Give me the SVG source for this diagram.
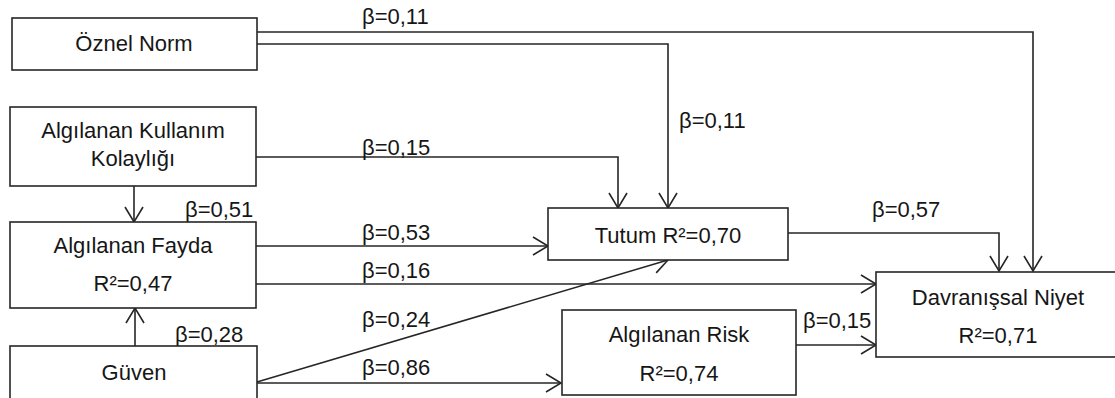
<svg xmlns="http://www.w3.org/2000/svg" width="1115" height="398" viewBox="0 0 1115 398">
  <style>
    .box { fill: #ffffff; stroke: #262626; stroke-width: 1.6; }
    .lbl { font-family: "Liberation Sans", Arial, sans-serif; font-size: 22px; fill: #161616; }
    .mid { text-anchor: middle; }
    .edge { fill: none; stroke: #262626; stroke-width: 1.6; marker-end: url(#chev); }
  </style>
  <defs>
    <marker id="chev" markerUnits="userSpaceOnUse" markerWidth="20" markerHeight="22" viewBox="-17 -11 20 22" refX="0" refY="0" orient="auto" overflow="visible">
      <path d="M -15 -9 L 0 0 L -15 9" fill="none" stroke="#262626" stroke-width="1.6"/>
    </marker>
  </defs>
  <rect width="1115" height="398" fill="#ffffff"/>

  <g id="connectors">
    <path class="edge" d="M255 32 H1033 V271"/>
    <path class="edge" d="M257 44 H668 V208"/>
    <path class="edge" d="M256 157 H618 V208"/>
    <path class="edge" d="M134 186 V222"/>
    <path class="edge" d="M256 246 H548"/>
    <path class="edge" d="M256 284 H876"/>
    <path class="edge" d="M135 346 V308"/>
    <path class="edge" d="M257 382 L668 260"/>
    <path class="edge" d="M257 383 H561"/>
    <path class="edge" d="M788 233 H999 V271"/>
    <path class="edge" d="M796 345 H876"/>
  </g>

  <g id="edge-labels" class="lbl">
    <text x="362" y="24">β=0,11</text>
    <text x="679" y="128">β=0,11</text>
    <text x="362" y="155">β=0,15</text>
    <text x="185" y="217">β=0,51</text>
    <text x="362" y="240">β=0,53</text>
    <text x="362" y="278">β=0,16</text>
    <text x="362" y="327">β=0,24</text>
    <text x="362" y="375">β=0,86</text>
    <text x="175" y="342">β=0,28</text>
    <text x="872" y="217">β=0,57</text>
    <text x="803" y="328">β=0,15</text>
  </g>

  <g id="oznel-norm">
    <rect class="box" x="12" y="18" width="245" height="52"/>
    <text class="lbl mid" x="134" y="51">Öznel Norm</text>
  </g>

  <g id="algilanan-kullanim-kolayligi">
    <rect class="box" x="10" y="107" width="246" height="79"/>
    <text class="lbl mid" x="133" y="138">Algılanan Kullanım</text>
    <text class="lbl mid" x="133" y="166">Kolaylığı</text>
  </g>

  <g id="algilanan-fayda">
    <rect class="box" x="10" y="222" width="246" height="86"/>
    <text class="lbl mid" x="133" y="253">Algılanan Fayda</text>
    <text class="lbl mid" x="133" y="291">R²=0,47</text>
  </g>

  <g id="guven">
    <rect class="box" x="10" y="346" width="247" height="60"/>
    <text class="lbl mid" x="134" y="380">Güven</text>
  </g>

  <g id="tutum">
    <rect class="box" x="548" y="208" width="240" height="52"/>
    <text class="lbl mid" x="668" y="243">Tutum R²=0,70</text>
  </g>

  <g id="algilanan-risk">
    <rect class="box" x="562" y="310" width="234" height="85"/>
    <text class="lbl mid" x="679" y="342">Algılanan Risk</text>
    <text class="lbl mid" x="679" y="381">R²=0,74</text>
  </g>

  <g id="davranissal-niyet">
    <rect class="box" x="876" y="272" width="250" height="85"/>
    <text class="lbl mid" x="998" y="305">Davranışsal Niyet</text>
    <text class="lbl mid" x="998" y="343">R²=0,71</text>
  </g>
</svg>
